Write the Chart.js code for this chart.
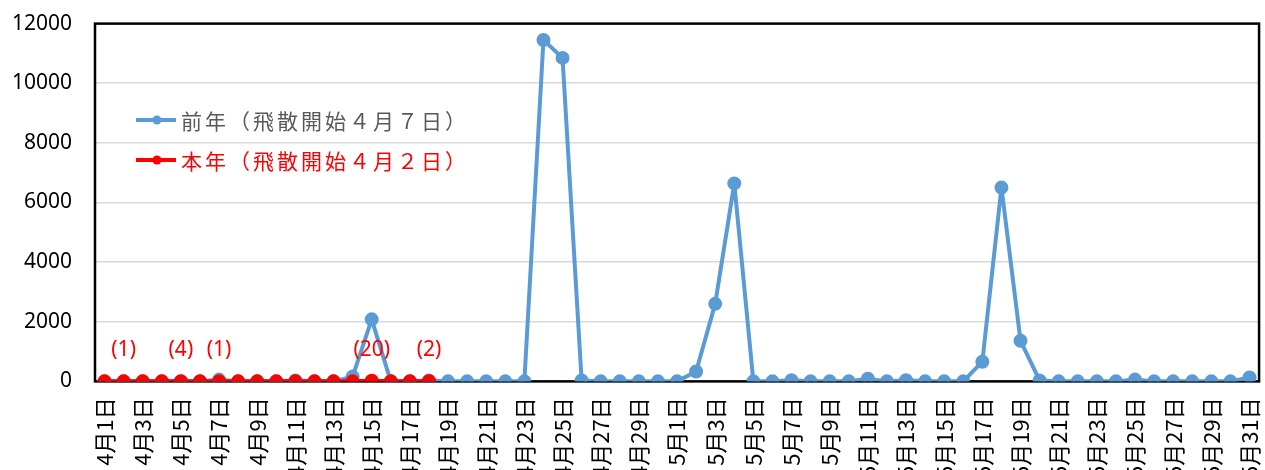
<!DOCTYPE html>
<html>
<head>
<meta charset="utf-8">
<script src="https://cdn.jsdelivr.net/npm/chart.js@4/dist/chart.umd.min.js"></script>
<style>
  html, body { margin: 0; padding: 0; background: #fff; overflow: hidden; }
  #wrap { width: 1292px; height: 506px; position: relative; margin-top: -12px; }
</style>
</head>
<body>
<div id="wrap"><canvas id="myChart"></canvas></div>
<script>
// days 4/1 .. 5/31
var days = [];
for (var d = 1; d <= 30; d++) days.push('4月' + d + '日');
for (var d = 1; d <= 31; d++) days.push('5月' + d + '日');

var lastYearName = '前年（飛散開始４月７日）';
var thisYearName = '本年（飛散開始４月２日）';

var lastYear = [
  0, 0, 0, 0, 0, 0, 60, 0, 0, 0,
  30, 0, 0, 160, 2080, 0, 0, 30, 0, 0,
  0, 0, 0, 11450, 10850, 30, 0, 0, 0, 0,
  0, 330, 2600, 6640, 0, 0, 40, 0, 0, 0,
  90, 0, 40, 0, 0, 0, 660, 6500, 1360, 30,
  0, 0, 0, 0, 60, 0, 0, 0, 0, 0,
  130
];
var thisYear = [0, 1, 0, 0, 4, 0, 1, 0, 0, 0, 0, 0, 0, 0, 20, 0, 0, 2];

// bracket labels for this year's non-zero days
var noteIdx = [1, 4, 6, 14, 17];

var blue = '#5B9BD5';
var red = '#FF0000';

var frame = {
  id: 'frame',
  beforeDatasetsDraw: function(chart) {
    var a = chart.chartArea, c = chart.ctx;
    c.save();
    c.strokeStyle = '#000';
    c.lineWidth = 2.5;
    c.strokeRect(a.left, a.top, a.right - a.left, a.bottom - a.top);
    c.restore();
  },
  afterDatasetsDraw: function(chart) {
    var c = chart.ctx, x = chart.scales.x, y = chart.scales.y;
    c.save();
    // notes
    c.fillStyle = red;
    c.font = '21px "Noto Sans", sans-serif';
    c.textAlign = 'center';
    c.textBaseline = 'middle';
    noteIdx.forEach(function(i) {
      c.fillText('(' + thisYear[i] + ')', x.getPixelForValue(i), y.getPixelForValue(0) - 31);
    });
    // legend (page y = canvas y - 12)
    var items = [[lastYearName, blue, '#595959', 132], [thisYearName, red, red, 172]];
    c.font = '21px "Noto Sans CJK JP", sans-serif';
    c.letterSpacing = '3px';
    c.textAlign = 'left';
    items.forEach(function(it) {
      c.strokeStyle = it[1];
      c.lineWidth = 4;
      c.beginPath();
      c.moveTo(136, it[3]);
      c.lineTo(176, it[3]);
      c.stroke();
      c.fillStyle = it[1];
      c.beginPath();
      c.arc(157, it[3], 4.5, 0, Math.PI * 2);
      c.fill();
      c.fillStyle = it[2];
      c.fillText(it[0], 181, it[3] + 1);
    });
    c.restore();
  }
};

var ctx = document.getElementById('myChart').getContext('2d');
var myChart = new Chart(ctx, {
  type: 'line',
  data: {
    labels: days,
    datasets: [{
      label: lastYearName,
      data: lastYear,
      borderColor: blue,
      backgroundColor: blue,
      borderWidth: 4,
      borderJoinStyle: 'round',
      pointRadius: 5,
      pointHoverRadius: 5,
      tension: 0,
      order: 2
    }, {
      label: thisYearName,
      data: thisYear,
      borderColor: red,
      backgroundColor: red,
      borderWidth: 4,
      borderJoinStyle: 'round',
      pointRadius: 5,
      pointHoverRadius: 5,
      tension: 0,
      order: 1
    }]
  },
  options: {
    responsive: true,
    maintainAspectRatio: false,
    animation: false,
    layout: { padding: { top: 0, right: 0, left: 0, bottom: 0 } },
    plugins: {
      legend: { display: false },
      tooltip: { enabled: false }
    },
    scales: {
      x: {
        offset: true,
        grid: { display: false, drawTicks: false },
        border: { display: false },
        ticks: {
          autoSkip: false,
          maxRotation: 90,
          minRotation: 90,
          color: '#000',
          padding: 16,
          font: { family: '"Noto Sans CJK JP", sans-serif', size: 22 },
          callback: function(v, i) { return i % 2 === 0 ? days[i] : ''; }
        }
      },
      y: {
        min: 0,
        max: 12000,
        afterFit: function(s) { s.width = 95; },
        grid: { color: '#d9d9d9', lineWidth: 1.5, drawTicks: false },
        border: { display: false },
        ticks: {
          stepSize: 2000,
          color: '#000',
          padding: 23,
          font: { family: '"Noto Sans", sans-serif', size: 21 },
          callback: function(v) { return String(v); }
        }
      }
    }
  },
  plugins: [frame]
});
</script>
</body>
</html>
